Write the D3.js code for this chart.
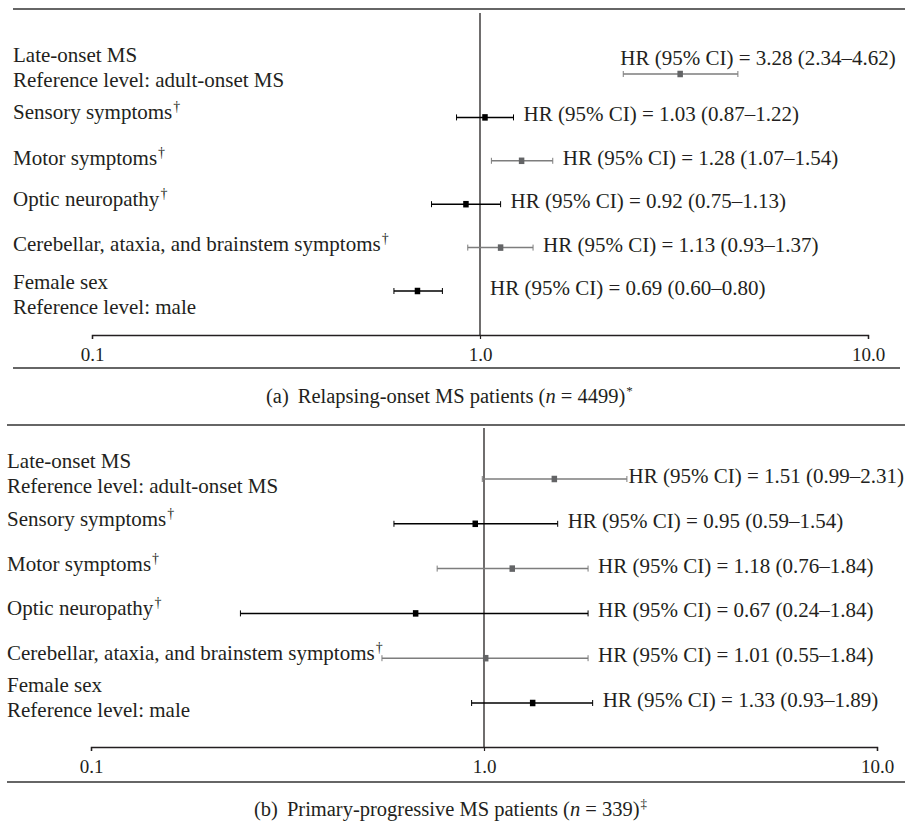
<!DOCTYPE html>
<html>
<head>
<meta charset="utf-8">
<script src="https://cdn.jsdelivr.net/npm/d3@7"></script>
<style>
  body { margin: 0; background: #fff; }
  svg { display: block; font-family: "Liberation Serif", "DejaVu Serif", serif; }
</style>
</head>
<body>
<svg id="chart" width="905" height="821"></svg>
<script>
// Dados
const factors = ["Late-onset MS", "Sensory symptoms", "Motor symptoms", "Optic neuropathy",
                 "Cerebellar, ataxia, and brainstem symptoms", "Female sex"];
const refLevels = ["adult-onset MS", null, null, null, null, "male"];
const dagger = [false, true, true, true, true, false];

// (a) Relapsing-onset
const hrA = [3.28, 1.03, 1.28, 0.92, 1.13, 0.69];
const loA = [2.34, 0.87, 1.07, 0.75, 0.93, 0.60];
const hiA = [4.62, 1.22, 1.54, 1.13, 1.37, 0.80];

// (b) Primary-progressive
const hrB = [1.51, 0.95, 1.18, 0.67, 1.01, 1.33];
const loB = [0.99, 0.59, 0.76, 0.24, 0.55, 0.93];
const hiB = [2.31, 1.54, 1.84, 1.84, 1.84, 1.89];

const tickValues = [0.1, 1, 10];
const tickLabels = ["0.1", "1.0", "10.0"];

const captionA = { tag: "(a)", text: "Relapsing-onset MS patients (", n: "4499", mark: "*" };
const captionB = { tag: "(b)", text: "Primary-progressive MS patients (", n: "339", mark: "\u2021" };

// Estilo
const ink = "#231f20";
const grayLine = "#7d7d7d";
const grayMark = "#636466";
const W = 905;

const svg = d3.select("#chart");

const fmt = d3.format(".2f");

const drawPanel = (p) => {
    const g = svg.append("g");

    const x = d3.scaleLog().domain([0.1, 10]).range([p.xLeft, p.xRight]);
    const y = d3.scalePoint().domain(d3.range(factors.length)).range([p.rowTop, p.rowBottom]);

    // linha de topo
    g.append("line")
        .attr("x1", p.lineLeft).attr("x2", W)
        .attr("y1", p.topY).attr("y2", p.topY)
        .attr("stroke", "#333").attr("stroke-width", 1.5);

    // linha vertical de referência em HR = 1
    g.append("line")
        .attr("x1", x(1)).attr("x2", x(1))
        .attr("y1", p.refTop).attr("y2", p.axisY)
        .attr("stroke", ink).attr("stroke-width", 1.3);

    // eixo
    const axis = d3.axisBottom(x)
        .tickValues(tickValues)
        .tickFormat((d, i) => tickLabels[i])
        .tickSizeInner(4)
        .tickSizeOuter(4)
        .tickPadding(8.5);

    const ax = g.append("g")
        .attr("transform", `translate(0,${p.axisY})`)
        .call(axis);
    ax.select(".domain").attr("stroke", ink).attr("stroke-width", 1.4);
    ax.selectAll(".tick line").attr("stroke", ink).attr("stroke-width", 1.2);
    ax.selectAll(".tick text")
        .attr("fill", ink)
        .style("font-family", '"Liberation Serif", serif')
        .style("font-size", "19px");

    // linha abaixo do eixo
    g.append("line")
        .attr("x1", p.lineLeft).attr("x2", p.bottomRight)
        .attr("y1", p.bottomY).attr("y2", p.bottomY)
        .attr("stroke", "#333").attr("stroke-width", 1.5);

    // rótulos à esquerda
    factors.forEach((f, i) => {
        const yc = y(i) + (p.labelShift ? p.labelShift[i] : 0);
        if (refLevels[i]) {
            g.append("text")
                .attr("x", p.labelX).attr("y", yc - 11)
                .attr("fill", ink).style("font-size", "21px")
                .text(f);
            g.append("text")
                .attr("x", p.labelX).attr("y", yc + 14)
                .attr("fill", ink).style("font-size", "21px")
                .text("Reference level: " + refLevels[i]);
        } else {
            const t = g.append("text")
                .attr("x", p.labelX).attr("y", yc + 2)
                .attr("fill", ink).style("font-size", "21px");
            t.append("tspan").text(f);
            if (dagger[i]) {
                t.append("tspan").attr("dy", -8).attr("dx", 1)
                    .style("font-size", "14px").text("\u2020");
            }
        }
    });

    // intervalos de confiança
    const rows = p.hr.map((h, i) => ({ i, hr: h, lo: p.lo[i], hi: p.hi[i] }));
    const color = d => d.i % 2 === 0 ? grayLine : "#000";
    const mcolor = d => d.i % 2 === 0 ? grayMark : "#000";

    const ci = g.append("g").selectAll("g")
        .data(rows)
        .enter().append("g");

    ci.append("line")
        .attr("x1", d => x(d.lo)).attr("x2", d => x(d.hi))
        .attr("y1", d => y(d.i)).attr("y2", d => y(d.i))
        .attr("stroke", color).attr("stroke-width", 1.5);

    ci.append("line")
        .attr("x1", d => x(d.lo)).attr("x2", d => x(d.lo))
        .attr("y1", d => y(d.i) - 3).attr("y2", d => y(d.i) + 3)
        .attr("stroke", color).attr("stroke-width", 1);

    ci.append("line")
        .attr("x1", d => x(d.hi)).attr("x2", d => x(d.hi))
        .attr("y1", d => y(d.i) - 3).attr("y2", d => y(d.i) + 3)
        .attr("stroke", color).attr("stroke-width", 1);

    ci.append("rect")
        .attr("x", d => x(d.hr) - 2.75).attr("y", d => y(d.i) - 3.25)
        .attr("width", 5.5).attr("height", 6.5)
        .attr("fill", mcolor);

    // texto HR (95% CI)
    ci.append("text")
        .attr("fill", ink)
        .style("font-size", "21px")
        .text(d => `HR (95% CI) = ${fmt(d.hr)} (${fmt(d.lo)}\u2013${fmt(d.hi)})`)
        .each(function(d) {
            const w = this.getComputedTextLength();
            const right = Math.max(x(d.hi), x(1));
            let tx = right + 10, ty = y(d.i) + 4;
            if (right + w > W) {
                // não cabe ao lado: vai por cima da barra
                tx = x(d.lo) - 3;
                ty = y(d.i) - 9;
            } else if (tx + w > W) {
                tx = W - w - 1;
            }
            d3.select(this).attr("x", tx).attr("y", ty);
        });

    // legenda do painel
    const cap = g.append("text")
        .attr("x", p.captionX).attr("y", p.captionY)
        .attr("fill", ink).style("font-size", "20.5px");
    cap.append("tspan").text(p.caption.tag);
    cap.append("tspan").attr("dx", 9).text(p.caption.text);
    cap.append("tspan").style("font-style", "italic").text("n");
    cap.append("tspan").text(" = " + p.caption.n + ")");
    cap.append("tspan").attr("dy", -8).attr("dx", 1)
        .style("font-size", "13px").text(p.caption.mark);
};

drawPanel({
    hr: hrA, lo: loA, hi: hiA, caption: captionA,
    xLeft: 92, xRight: 868,
    topY: 9, lineLeft: 13, refTop: 13,
    rowTop: 74, rowBottom: 291,
    axisY: 335, bottomY: 368, bottomRight: 900,
    labelX: 13, captionX: 266, captionY: 403,
    labelShift: [-1, 0, 2, 0, 1, 9]
});

drawPanel({
    hr: hrB, lo: loB, hi: hiB, caption: captionB,
    xLeft: 91, xRight: 877,
    topY: 425, lineLeft: 7, refTop: 428,
    rowTop: 479, rowBottom: 703,
    axisY: 747, bottomY: 782, bottomRight: 905,
    labelX: 7, captionX: 254, captionY: 816
});
</script>
</body>
</html>
